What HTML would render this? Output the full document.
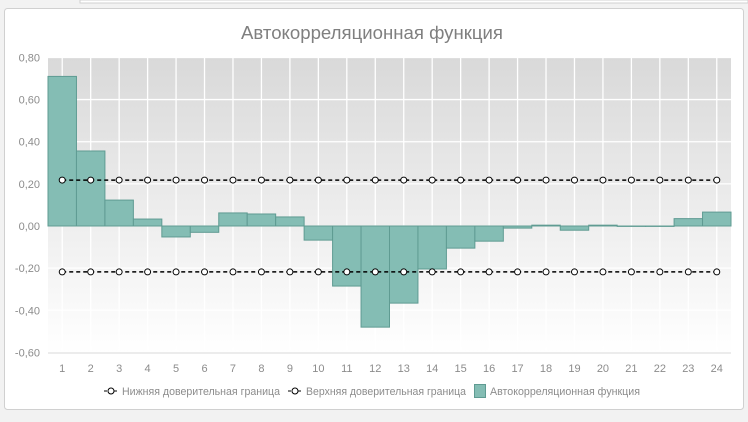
<!DOCTYPE html><html><head><meta charset="utf-8"><style>
body{margin:0;background:#f2f2f2;width:748px;height:417px;overflow:hidden;font-family:"Liberation Sans",sans-serif}
</style></head><body>
<svg width="748" height="417" xmlns="http://www.w3.org/2000/svg" font-family="Liberation Sans, sans-serif">
<defs><linearGradient id="g" x1="0" y1="0" x2="0" y2="1"><stop offset="0" stop-color="#d9d9d9"/><stop offset="1" stop-color="#ffffff"/></linearGradient></defs>
<rect x="80" y="0" width="668" height="3" fill="#fff" stroke="#d0d0d0"/>
<rect x="4.5" y="8.5" width="739" height="401" rx="3" fill="#fff" stroke="#d0d0d0"/>
<text x="372" y="39" text-anchor="middle" font-size="18" fill="#7f7f7f" textLength="262" lengthAdjust="spacingAndGlyphs">Автокорреляционная функция</text>
<rect x="48" y="58" width="683" height="295" fill="url(#g)"/>
<g id="grid" stroke="#fff" stroke-width="1.3"></g>
<g id="bars" fill="#84bdb4" stroke="#5f9b92" stroke-width="1"></g>
<line x1="48" y1="353" x2="731" y2="353" stroke="#d9d9d9"/>
<g id="lines"></g>
<g font-size="11" fill="#8c8c8c" id="lab"></g>
<g font-size="11" fill="#8c8c8c">
<line x1="104" y1="391" x2="118" y2="391" stroke="#000" stroke-dasharray="3,2"/><circle cx="111" cy="391" r="3" fill="#fff" stroke="#000"/>
<text x="122" y="395" textLength="158" lengthAdjust="spacingAndGlyphs">Нижняя доверительная граница</text>
<line x1="288" y1="391" x2="302" y2="391" stroke="#000" stroke-dasharray="3,2"/><circle cx="295" cy="391" r="3" fill="#fff" stroke="#000"/>
<text x="306" y="395" textLength="160" lengthAdjust="spacingAndGlyphs">Верхняя доверительная граница</text>
<rect x="474.5" y="384.5" width="11" height="13" fill="#84bdb4" stroke="#5f9b92"/>
<text x="490" y="395" textLength="150" lengthAdjust="spacingAndGlyphs">Автокорреляционная функция</text>
</g>
</svg>
<script>
const v=[0.71,0.356,0.123,0.033,-0.052,-0.03,0.062,0.057,0.043,-0.067,-0.285,-0.48,-0.366,-0.204,-0.105,-0.072,-0.01,0.004,-0.02,0.004,-0.002,-0.002,0.035,0.066];
const L=48,W=683/24,y=t=>226-t*210.7,ns="http://www.w3.org/2000/svg";
function el(p,n,a,txt){const e=document.createElementNS(ns,n);for(const k in a)e.setAttribute(k,a[k]);if(txt!=null)e.textContent=txt;document.getElementById(p).appendChild(e);}
for(let i=0;i<8;i++){const t=0.8-i*0.2;el('grid','line',{x1:L,x2:731,y1:y(t),y2:y(t)});el('lab','text',{x:40,y:y(t)+4,'text-anchor':'end'},t.toFixed(2).replace('.',',').replace('-0,00','0,00'));}
for(let i=0;i<24;i++){const c=L+W*(i+0.5);el('grid','line',{x1:c,x2:c,y1:58,y2:353});
const a=v[i];el('bars','rect',{x:L+W*i,y:Math.min(y(a),226),width:W,height:Math.abs(y(a)-226)});
el('lab','text',{x:c,y:372,'text-anchor':'middle'},i+1);}
for(const t of [0.218,-0.218]){el('lines','line',{x1:L+W/2,x2:L+W*23.5,y1:y(t),y2:y(t),stroke:'#000','stroke-width':1.5,'stroke-dasharray':'4,3'});
for(let i=0;i<24;i++)el('lines','circle',{cx:L+W*(i+0.5),cy:y(t),r:3,fill:'#fff',stroke:'#000'});}
</script>
</body></html>
